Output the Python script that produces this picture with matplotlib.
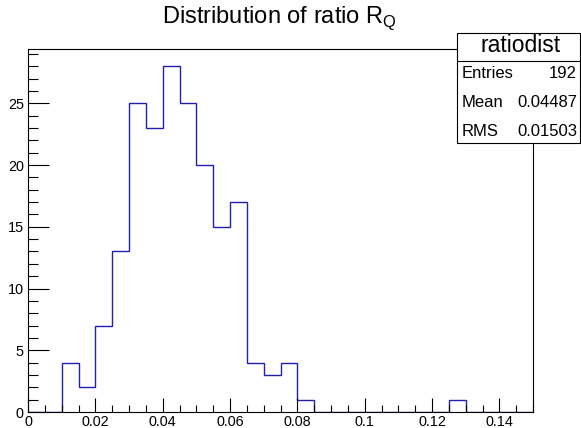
import numpy as np
import matplotlib
matplotlib.use("Agg")
import matplotlib.pyplot as plt
from matplotlib.ticker import MultipleLocator, FormatStrFormatter
from matplotlib.patches import Rectangle
from matplotlib.lines import Line2D

plt.rcParams.update({
    "font.family": ["Liberation Sans", "DejaVu Sans"],
    "font.size": 10.4,
})

# histogram "ratiodist": 30 bins of width 0.005 from 0 to 0.15
x_lo = 0.0
x_hi = 0.15
n_bins = 30
counts = [0, 0, 4, 2, 7, 13, 25, 23, 28, 25, 20, 15, 17, 4, 3, 4, 1,
          0, 0, 0, 0, 0, 0, 0, 0, 1, 0, 0, 0, 0]
stat_names = ["Entries", "Mean", "RMS"]
stat_values = ["192", "0.04487", "0.01503"]
hist_name = "ratiodist"
title = r"Distribution of ratio R$_\mathregular{Q}$"

W, H = 581, 428
fig = plt.figure(figsize=(W / 100, H / 100), dpi=100)
ax = fig.add_axes([28 / W, 1 - 412 / H, (533 - 28) / W, (412 - 49) / H])

edges = np.linspace(x_lo, x_hi, n_bins + 1)
ax.stairs(counts, edges, color="#1f1fb0", linewidth=1.0, baseline=0)

ax.set_xlim(x_lo, x_hi)
ax.set_ylim(0, max(counts) * 1.05)

ax.xaxis.set_major_locator(MultipleLocator(0.02))
ax.xaxis.set_minor_locator(MultipleLocator(0.005))
ax.yaxis.set_major_locator(MultipleLocator(5))
ax.yaxis.set_minor_locator(MultipleLocator(1))
ax.xaxis.set_major_formatter(FormatStrFormatter("%g"))
ax.tick_params(which="both", direction="in", top=False, right=False,
               labelsize=10.4, color="black", width=0.8)
ax.tick_params(axis="x", which="major", length=10, pad=2)
ax.tick_params(axis="x", which="minor", length=5)
ax.tick_params(axis="y", which="major", length=15, pad=3)
ax.tick_params(axis="y", which="minor", length=7.5)
for s in ax.spines.values():
    s.set_linewidth(0.8)

fig.text(279 / W, 1 - 18 / H, title, ha="center", va="center", fontsize=17)

# stats box
bx0, by0, bx1, by1 = 457, 33, 580, 143
fig.add_artist(Rectangle((bx0 / W, 1 - by1 / H), (bx1 - bx0) / W, (by1 - by0) / H,
                         transform=fig.transFigure, facecolor="white",
                         edgecolor="black", linewidth=0.8, zorder=5))
fig.add_artist(Line2D([bx0 / W, bx1 / W], [1 - 60.5 / H, 1 - 60.5 / H],
                      transform=fig.transFigure, color="black", linewidth=0.8, zorder=6))
fig.text(521 / W, 1 - 46 / H, hist_name, ha="center", va="center",
         fontsize=16.5, zorder=7)
for i, (nm, val) in enumerate(zip(stat_names, stat_values)):
    yy = 1 - (74 + 28.5 * i) / H
    fig.text(462 / W, yy, nm, ha="left", va="center", fontsize=12, zorder=7)
    fig.text(577 / W, yy, val, ha="right", va="center", fontsize=12, zorder=7)

fig.savefig("out.png", dpi=100)
